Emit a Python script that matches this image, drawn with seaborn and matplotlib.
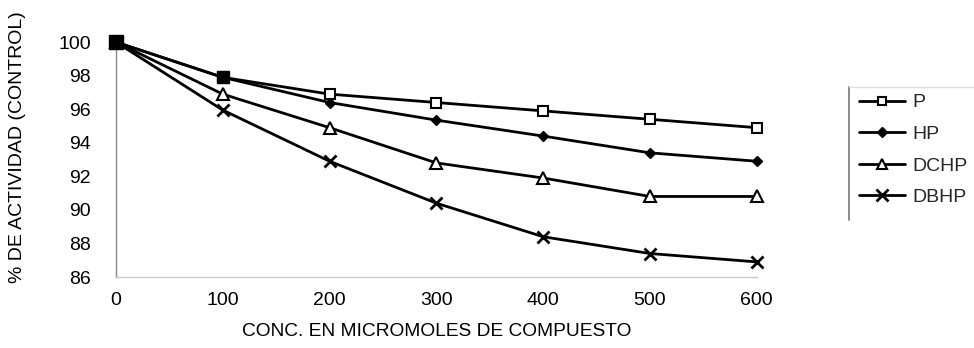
import matplotlib
matplotlib.use("Agg")
import matplotlib.pyplot as plt
from matplotlib.lines import Line2D
import seaborn as sns
import pandas as pd

conc = [0, 100, 200, 300, 400, 500, 600]
p_vals = [100, 97.9, 96.9, 96.4, 95.9, 95.4, 94.9]
hp_vals = [100, 97.9, 96.4, 95.35, 94.4, 93.4, 92.9]
dchp_vals = [100, 96.9, 94.9, 92.8, 91.9, 90.8, 90.8]
dbhp_vals = [100, 95.95, 92.9, 90.4, 88.4, 87.4, 86.9]
series_names = ["P", "HP", "DCHP", "DBHP"]
y_ticks = [86, 88, 90, 92, 94, 96, 98, 100]

rows = []
for name, vals in zip(series_names, [p_vals, hp_vals, dchp_vals, dbhp_vals]):
    for c, v in zip(conc, vals):
        rows.append({"conc": c, "val": v, "serie": name})
df = pd.DataFrame(rows)

sns.set_theme(style="white")
plt.rcParams['font.family'] = ['Liberation Sans', 'DejaVu Sans']
FS = 14

fig = plt.figure(figsize=(9.74, 3.48), dpi=100)
ax = fig.add_axes([0.119, 0.204, 0.658, 0.675])

styles = {
    "P": dict(marker="s", markerfacecolor="white", markersize=7.2, markeredgewidth=1.5),
    "HP": dict(marker="D", markerfacecolor="black", markersize=5.5, markeredgewidth=1.0),
    "DCHP": dict(marker="^", markerfacecolor="white", markersize=8.5, markeredgewidth=1.5),
    "DBHP": dict(marker="x", markersize=9, markeredgewidth=2.0),
}
line_map = {}
for name in series_names[::-1]:
    sub = df[df["serie"] == name]
    n_before = len(ax.get_lines())
    sns.lineplot(data=sub, x="conc", y="val", ax=ax, color="black", linewidth=2.0,
                 markeredgecolor="black", clip_on=False, legend=False, **styles[name])
    line_map[name] = ax.get_lines()[n_before]
# filled squares where all series overlap
ax.plot([0], [p_vals[0]], marker="s", color="black", markersize=9.5, clip_on=False, zorder=5)
ax.plot([100], [p_vals[1]], marker="s", color="black", markersize=8.5, clip_on=False, zorder=5)

ax.set_xlim(0, 600)
ax.set_ylim(86, 100)
ax.set_xticks(conc)
ax.set_yticks(y_ticks)
ax.tick_params(axis="y", labelsize=FS, colors="black", length=0, pad=18)
ax.tick_params(axis="x", labelsize=FS, labelcolor="black", direction="in", length=4,
               color="#bbbbbb", pad=11)
for s in ["top", "right"]:
    ax.spines[s].set_visible(False)
ax.spines["left"].set_color("#888888")
ax.spines["left"].set_linewidth(1.0)
ax.spines["bottom"].set_color("#cccccc")
ax.spines["bottom"].set_linewidth(1.0)
ax.set_xlabel("CONC. EN MICROMOLES DE COMPUESTO", fontsize=13.8, labelpad=10, color="black")
ax.set_ylabel("% DE ACTIVIDAD (CONTROL)", fontsize=FS, color="black")
ax.yaxis.set_label_coords(-0.14, 0.553)
ax.grid(False)

# legend frame (left border visible, right edge beyond figure)
fig.add_artist(Line2D([849 / 974, 849 / 974], [1 - 87 / 348, 1 - 220 / 348],
                      transform=fig.transFigure, color="#777777", linewidth=1.2))
fig.add_artist(Line2D([849 / 974, 1.0], [1 - 87 / 348, 1 - 87 / 348],
                      transform=fig.transFigure, color="#e0e0e0", linewidth=1.0))

leg_handles = [
    Line2D([], [], color="black", linewidth=2.0, marker="s", markerfacecolor="white",
           markeredgecolor="black", markersize=6, markeredgewidth=1.5),
    Line2D([], [], color="black", linewidth=2.0, marker="D", markerfacecolor="black",
           markeredgecolor="black", markersize=5),
    Line2D([], [], color="black", linewidth=2.0, marker="^", markerfacecolor="white",
           markeredgecolor="black", markersize=7, markeredgewidth=1.5),
    Line2D([], [], color="black", linewidth=2.0, marker="x", markeredgecolor="black",
           markersize=8, markeredgewidth=2.0),
]
leg = fig.legend(leg_handles, series_names,
                 loc="center left", bbox_to_anchor=(859 / 974, 1 - 150 / 348), frameon=False,
                 fontsize=FS, handlelength=2.35, handletextpad=0.4,
                 labelspacing=0.72, borderpad=0, borderaxespad=0)

fig.savefig("out.png", dpi=100, facecolor="white")
